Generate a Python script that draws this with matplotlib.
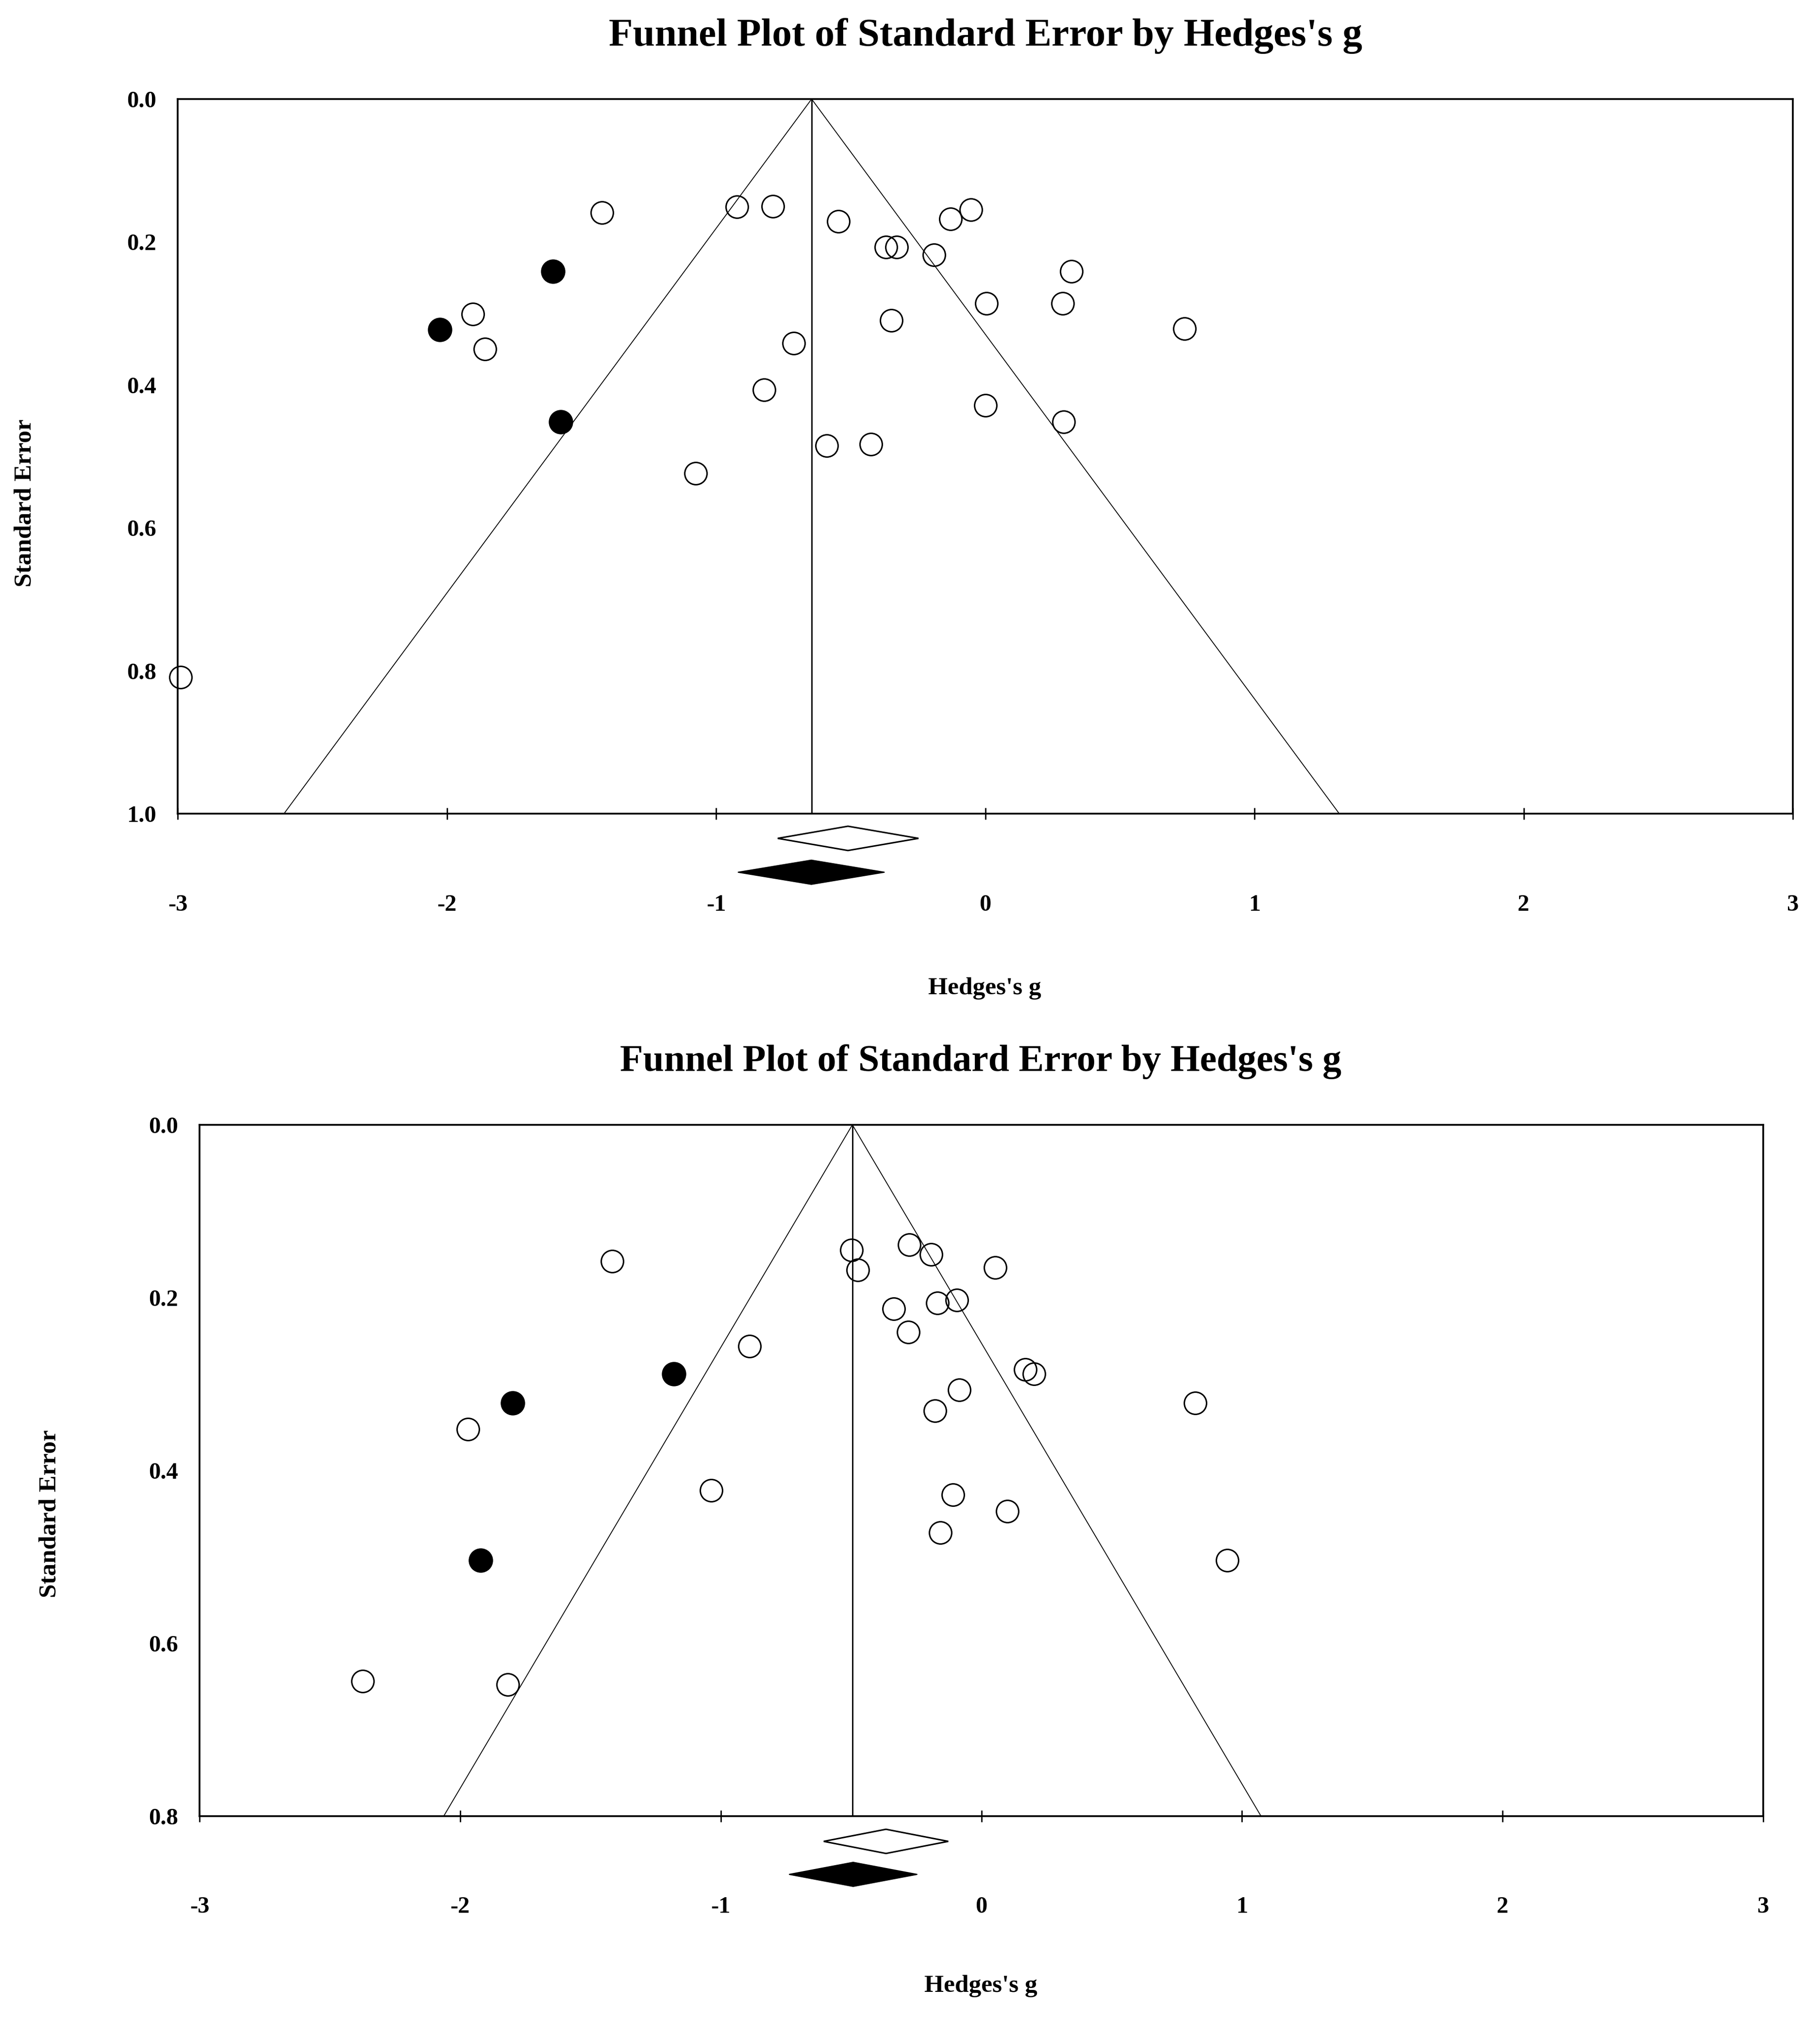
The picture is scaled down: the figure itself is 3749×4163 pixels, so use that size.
"""Two funnel plots (standard error vs Hedges's g) with trim-and-fill imputed studies."""
import numpy as np
import matplotlib
matplotlib.use("Agg")
import matplotlib.pyplot as plt

plt.rcParams.update({"font.family": ["Liberation Serif", "DejaVu Serif"],
                     "font.weight": "bold", "axes.unicode_minus": False})

# ---- top panel data ----
top_open_g = [-1.424, -0.923, -0.789, -0.545, -0.129, -0.053, -0.368, -0.330, -0.191,
              0.320, 0.005, 0.287, 0.741, -0.349, -0.712, -1.903, -1.859, -0.822,
              0.000, 0.292, -0.588, -0.425, -1.076, -2.990]
top_open_se = [0.159, 0.151, 0.150, 0.171, 0.168, 0.155, 0.207, 0.207, 0.218,
               0.241, 0.286, 0.286, 0.321, 0.310, 0.342, 0.301, 0.350, 0.407,
               0.429, 0.452, 0.485, 0.483, 0.524, 0.809]
top_fill_g = [-1.606, -2.027, -1.577]
top_fill_se = [0.241, 0.323, 0.452]
top_center = -0.645
top_observed = (-0.510, -0.771, -0.248)   # estimate, lower, upper
top_adjusted = (-0.646, -0.919, -0.374)
top_se_max = 1.0

# ---- bottom panel data ----
bot_open_g = [-1.417, -0.499, -0.474, -0.277, -0.193, 0.054, -0.336, -0.168, -0.094,
              -0.281, -0.889, 0.168, 0.202, -0.084, -0.178, 0.820, -1.970, -1.037,
              -0.109, 0.099, -0.158, 0.943, -2.375, -1.817]
bot_open_se = [0.158, 0.145, 0.168, 0.139, 0.150, 0.165, 0.213, 0.206, 0.203,
               0.240, 0.256, 0.283, 0.288, 0.307, 0.331, 0.322, 0.352, 0.423,
               0.428, 0.447, 0.472, 0.504, 0.644, 0.648]
bot_fill_g = [-1.180, -1.798, -1.921]
bot_fill_se = [0.288, 0.322, 0.504]
bot_center = -0.495
bot_observed = (-0.366, -0.605, -0.127)
bot_adjusted = (-0.492, -0.738, -0.246)
bot_se_max = 0.8

x_ticks = [-3, -2, -1, 0, 1, 2, 3]
x_tick_labels = ["-3", "-2", "-1", "0", "1", "2", "3"]
title = "Funnel Plot of Standard Error by Hedges's g"

W, H = 3749, 4163
fig = plt.figure(figsize=(W / 100, H / 100), dpi=100)


def fx(px): return px / W
def fy(py): return 1 - py / H


def diamond(ax, est, y, h, **kw):
    pt, lo, hi = est
    ax.fill([lo, pt, hi, pt], [y, y - h, y, y + h], clip_on=False, zorder=4, **kw)


def panel(rect, og, ose, fg, fse, center, se_max, obs, adj, dy, dh, pad):
    ax = fig.add_axes(rect)
    z = 1.96
    ax.plot([center - z * se_max, center, center + z * se_max], [se_max, 0, se_max],
            color="black", lw=1.3, zorder=2)
    ax.plot([center, center], [0, se_max], color="black", lw=2.0, zorder=2)
    ax.plot(og, ose, "o", ms=33, mfc="none", mec="black", mew=2.2, zorder=3, clip_on=False)
    ax.plot(fg, fse, "o", ms=34, mfc="black", mec="black", mew=2.2, zorder=3, clip_on=False)
    diamond(ax, obs, dy[0], dh, facecolor="white", edgecolor="black", lw=2.2)
    diamond(ax, adj, dy[1], dh, facecolor="black", edgecolor="black", lw=1.5)
    ax.set_xlim(-3, 3)
    ax.set_ylim(se_max, 0)
    ax.set_xticks(x_ticks)
    ax.set_xticklabels(x_tick_labels)
    yt = np.arange(0, se_max + 0.001, 0.2)
    ax.set_yticks(yt)
    ax.set_yticklabels([f"{v:.1f}" for v in yt])
    ax.tick_params(axis="x", direction="inout", length=17, width=2.0, pad=pad, labelsize=35)
    ax.tick_params(axis="y", length=0, pad=32, labelsize=35)
    for s in ax.spines.values():
        s.set_linewidth(2.6)
    return ax


panel([fx(366), fy(1676), fx(3693) - fx(366), fy(204) - fy(1676)],
      top_open_g, top_open_se, top_fill_g, top_fill_se, top_center, top_se_max,
      top_observed, top_adjusted, (1.0346, 1.082), 0.017, 111)
fig.text(fx(2030), fy(74), title, ha="center", va="center", fontsize=58.5, fontweight="bold")
fig.text(fx(52), fy(1036), "Standard Error", rotation=90, ha="center", va="center", fontsize=37)
fig.text(fx(2028), fy(2036), "Hedges's g", ha="center", va="center", fontsize=37)

panel([fx(411), fy(3741), fx(3632) - fx(411), fy(2317) - fy(3741)],
      bot_open_g, bot_open_se, bot_fill_g, bot_fill_se, bot_center, bot_se_max,
      bot_observed, bot_adjusted, (0.8292, 0.8674), 0.014, 110)
fig.text(fx(2020), fy(2187), title, ha="center", va="center", fontsize=56, fontweight="bold")
fig.text(fx(103), fy(3118), "Standard Error", rotation=90, ha="center", va="center", fontsize=37)
fig.text(fx(2020), fy(4091), "Hedges's g", ha="center", va="center", fontsize=37)

fig.savefig("out.png", dpi=100)
print("wrote out.png")
